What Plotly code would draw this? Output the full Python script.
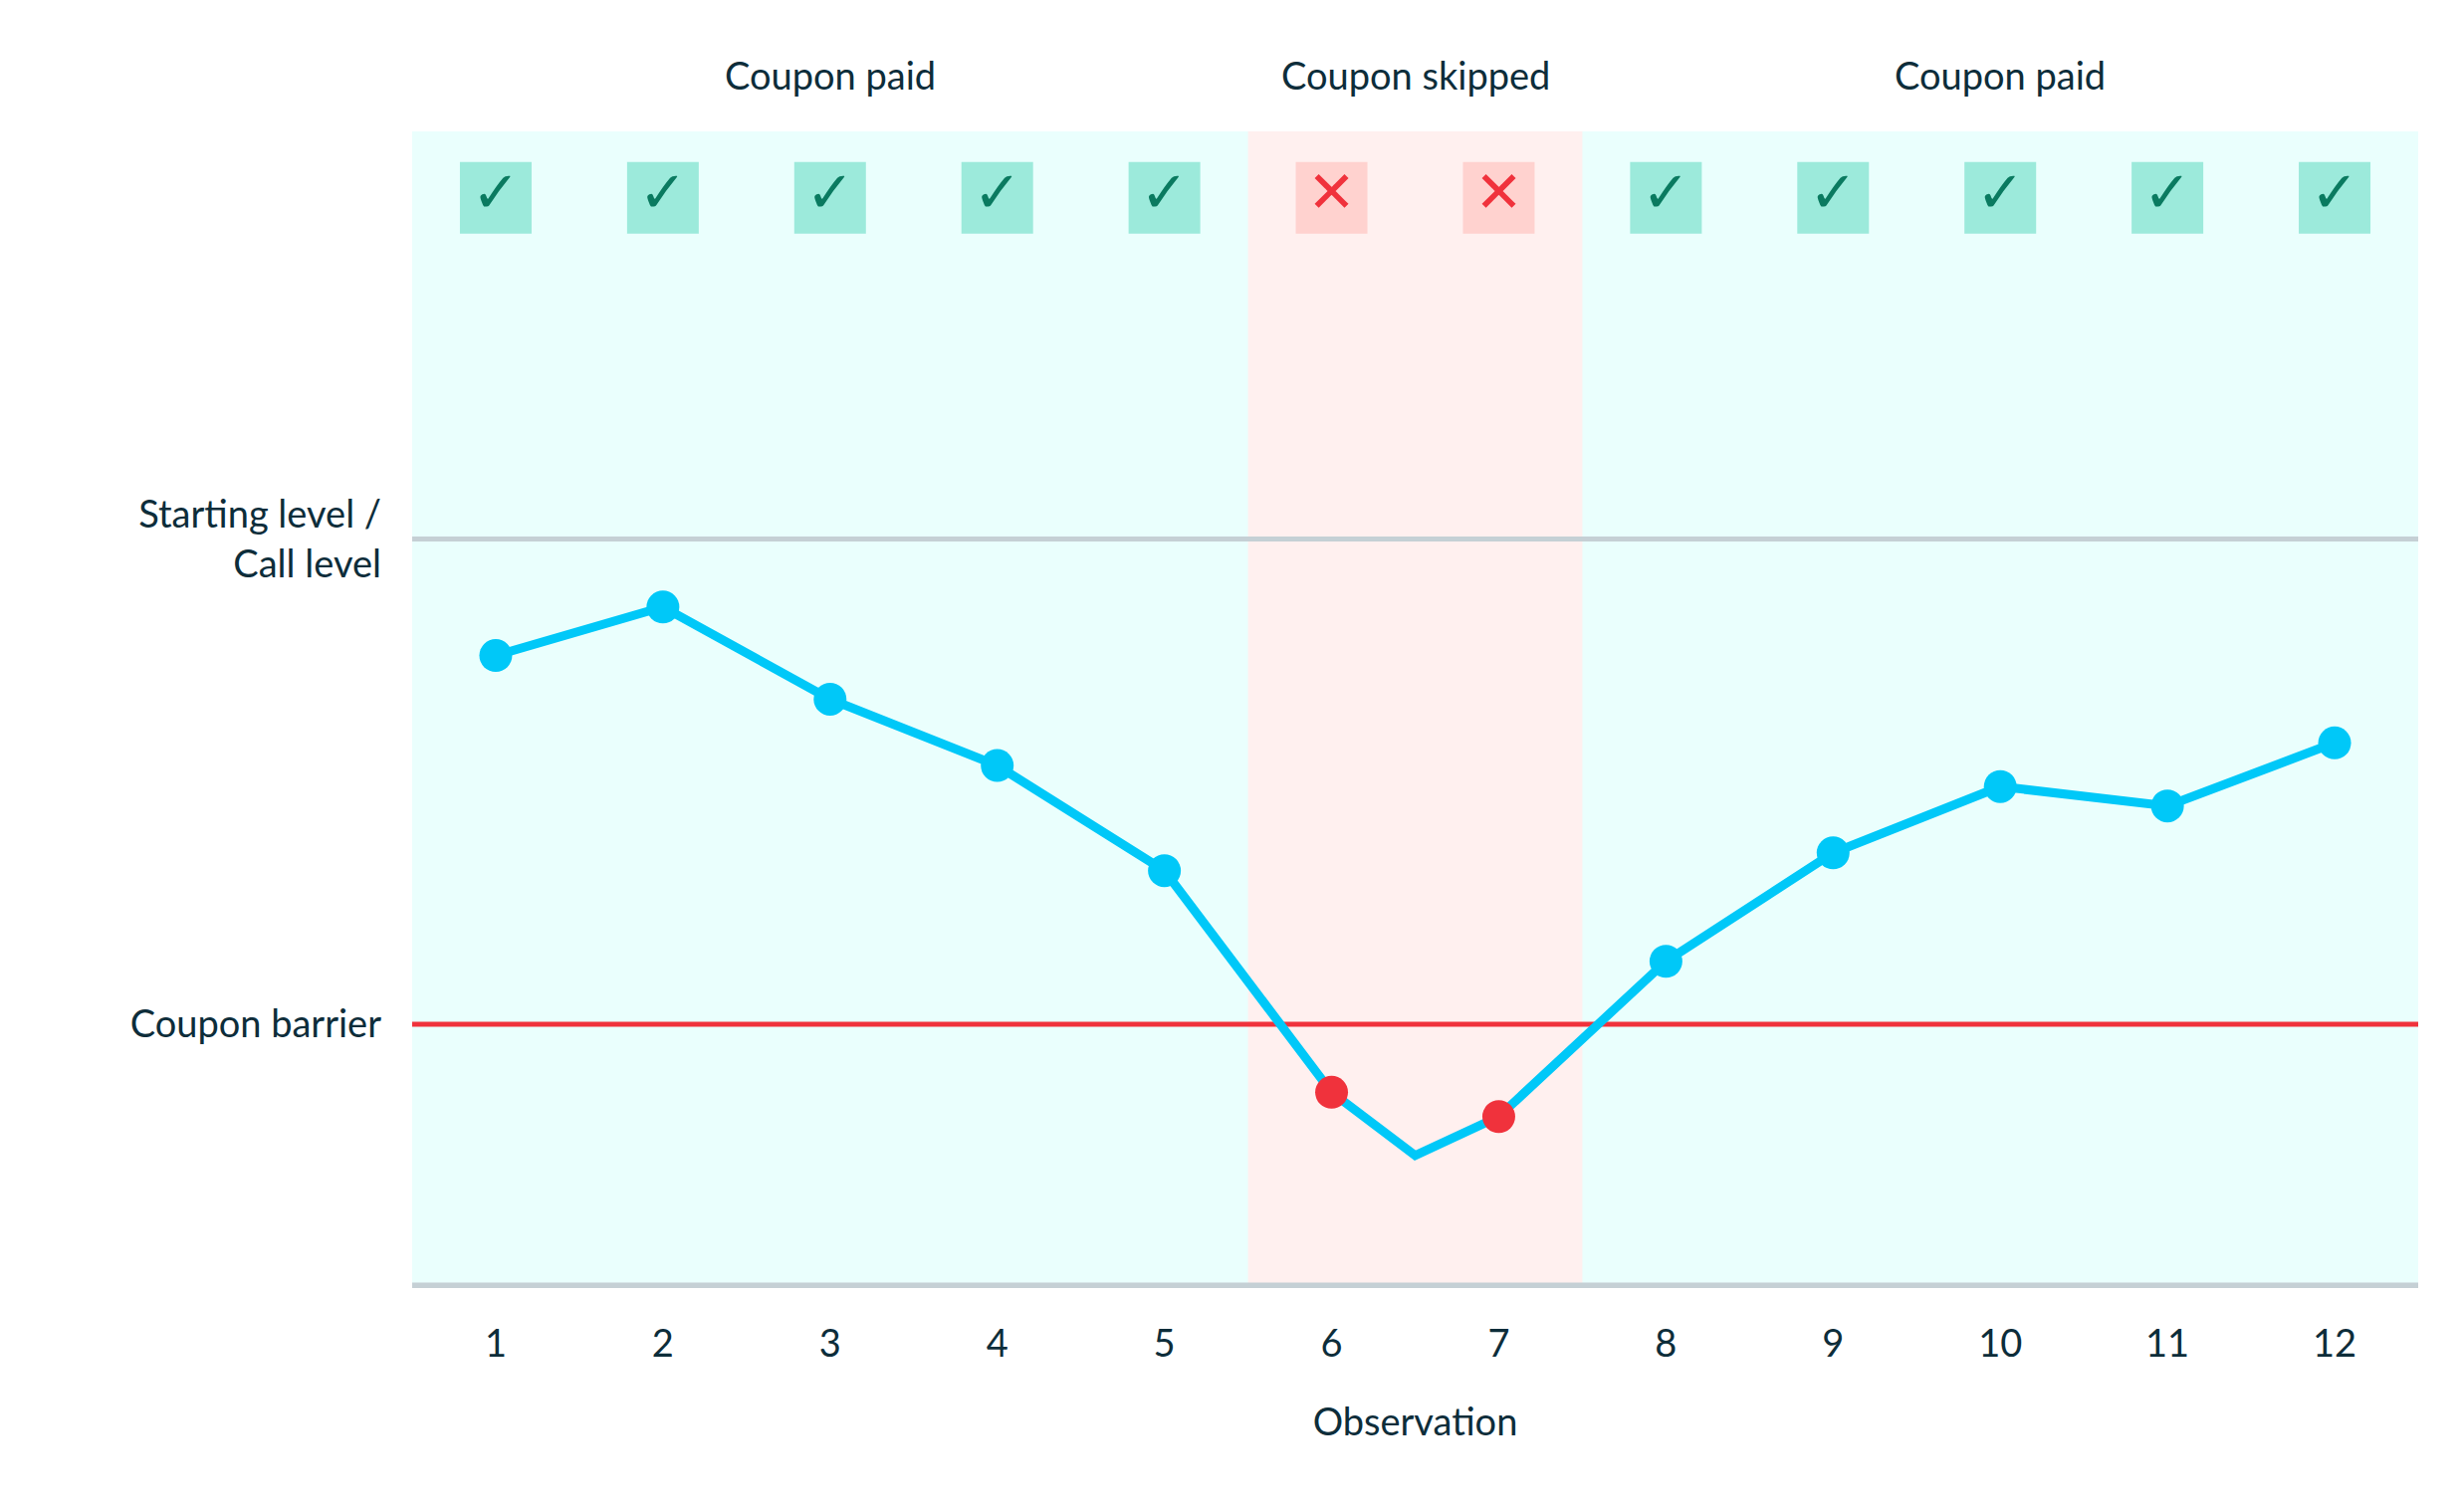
import plotly.graph_objects as go

obs = [1, 2, 3, 4, 5, 6, 7, 8, 9, 10, 11, 12]
levels = [92.8, 95.8, 90.1, 86.0, 79.5, 65.8, 64.3, 73.9, 80.6, 84.7, 83.5, 87.4]
# path between observations 6 and 7 dips lower
path_x = [1, 2, 3, 4, 5, 6, 6.5, 7, 8, 9, 10, 11, 12]
path_y = [92.8, 95.8, 90.1, 86.0, 79.5, 65.8, 61.9, 64.3, 73.9, 80.6, 84.7, 83.5, 87.4]
paid = [True, True, True, True, True, False, False, True, True, True, True, True]
start_level = 100
barrier = 70
y_min, y_max = 53.7, 125.2
box_y = 121.1

dark = "#0d2d3a"
cyan = "#00c8f8"
red = "#f0323c"
font = "Lato"

fig = go.Figure()

# backgrounds
fig.add_shape(type="rect", x0=0.5, x1=12.5, y0=y_min, y1=y_max, fillcolor="#eafffd",
              line_width=0, layer="below")
fig.add_shape(type="rect", x0=5.5, x1=7.5, y0=y_min, y1=y_max, fillcolor="#fff0ef",
              line_width=0, layer="below")
fig.add_shape(type="line", x0=0.5, x1=12.5, y0=start_level, y1=start_level,
              line=dict(color="#c5d0d5", width=5), layer="below")
fig.add_shape(type="line", x0=0.5, x1=12.5, y0=y_min + 0.15, y1=y_min + 0.15,
              line=dict(color="#c5d0d5", width=6), layer="below")
fig.add_shape(type="line", x0=0.5, x1=12.5, y0=barrier, y1=barrier,
              line=dict(color=red, width=5), layer="below")

fig.add_trace(go.Scatter(x=path_x, y=path_y, mode="lines",
                         line=dict(color=cyan, width=9), hoverinfo="skip"))
fig.add_trace(go.Scatter(x=obs, y=levels, mode="markers",
                         marker=dict(size=33, color=[cyan if p else red for p in paid]),
                         hoverinfo="skip"))

# coupon boxes
fig.add_trace(go.Scatter(
    x=obs, y=[box_y] * len(obs), mode="markers+text",
    marker=dict(symbol="square", size=72, color=["#9ceadb" if p else "#ffd2cf" for p in paid]),
    text=["✓" if p else "✕" for p in paid], textposition="middle center",
    textfont=dict(size=58, family="DejaVu Sans", color=["#0a7a60" if p else red for p in paid]),
    hoverinfo="skip"))

for x, label in [(3, "Coupon paid"), (6.5, "Coupon skipped"), (10, "Coupon paid")]:
    fig.add_annotation(x=x, y=1, xref="x", yref="paper", yanchor="bottom", yshift=32,
                       text=label, showarrow=False, font=dict(size=38, color=dark, family=font))

fig.update_layout(
    width=2475, height=1518, showlegend=False,
    paper_bgcolor="white", plot_bgcolor="white",
    margin=dict(l=406, r=54, t=124, b=232),
    font=dict(family=font, size=38, color=dark),
    xaxis=dict(range=[0.5, 12.5], tickvals=obs, ticktext=[str(o) for o in obs],
               showgrid=False, zeroline=False, ticks="", ticklabelstandoff=30,
               title=dict(text="Observation", standoff=45, font=dict(size=38))),
    yaxis=dict(range=[y_min, y_max], tickvals=[barrier, start_level],
               ticktext=["Coupon barrier", "Starting level /<br>Call level"],
               showgrid=False, zeroline=False, ticks="", ticklabelstandoff=30),
)

fig.write_html("out.html")
